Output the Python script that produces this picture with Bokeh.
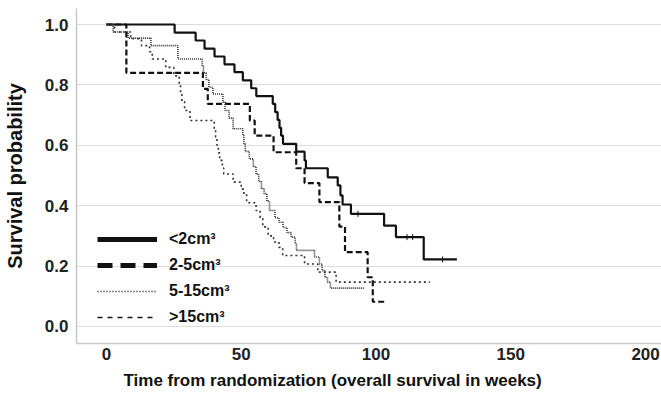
from bokeh.plotting import figure
from bokeh.models import Range1d, FixedTicker, Legend, LegendItem, Title
from bokeh.embed import file_html
from bokeh.resources import INLINE
import numpy as np

# Kaplan-Meier estimates by tumour volume group (event times in weeks, survival after each step)
lt2_time = [0, 25.3, 33.1, 36.4, 40.1, 43.8, 47.5, 50.6, 53.7, 55.6, 61.7, 62.6, 63.5, 64.2,
            64.8, 65.5, 70.4, 73.5, 74.0, 82.1, 85.8, 86.8, 87.6, 90.7, 103.0, 107.4, 117.7, 130.0]
lt2_surv = [1.0, 0.973, 0.947, 0.920, 0.894, 0.868, 0.842, 0.815, 0.789, 0.763, 0.737, 0.710,
            0.684, 0.658, 0.632, 0.605, 0.579, 0.550, 0.524, 0.494, 0.467, 0.434, 0.404, 0.373,
            0.334, 0.296, 0.222, 0.222]
lt2_censor = [93.3, 111.5, 113.6, 124.7]

v2_5_time = [0, 7.4, 35.8, 37.6, 53.2, 55.0, 62.0, 70.4, 73.5, 79.0, 86.4, 88.5, 96.9, 98.8, 103.5]
v2_5_surv = [1.0, 0.840, 0.787, 0.737, 0.682, 0.632, 0.577, 0.524, 0.475, 0.412, 0.331, 0.246,
             0.163, 0.082, 0.082]

v5_15_time = [0, 2.5, 8.0, 16.5, 26.5, 35.5, 36.0, 37.0, 38.0, 39.5, 43.2, 44.0, 45.5, 47.0,
              50.6, 51.0, 51.5, 53.0, 54.5, 55.5, 56.5, 57.5, 58.5, 59.5, 60.5, 62.5, 64.0,
              65.5, 67.0, 68.5, 70.0, 70.5, 77.2, 79.0, 80.0, 81.0, 82.0, 83.1, 95.7]
v5_15_surv = [1.0, 0.975, 0.955, 0.930, 0.886, 0.862, 0.840, 0.818, 0.792, 0.770, 0.743, 0.715,
              0.690, 0.655, 0.632, 0.605, 0.580, 0.555, 0.530, 0.505, 0.480, 0.457, 0.440, 0.415,
              0.384, 0.360, 0.345, 0.328, 0.311, 0.296, 0.275, 0.252, 0.230, 0.207, 0.185, 0.163,
              0.147, 0.127, 0.127]

gt15_time = [0, 3.0, 9.0, 13.0, 16.0, 17.0, 22.0, 25.0, 27.0, 27.5, 28.0, 29.0, 31.0, 40.0,
             40.5, 41.0, 41.5, 42.0, 43.0, 43.5, 47.0, 50.0, 51.0, 52.0, 55.5, 57.0, 58.0, 60.0,
             62.0, 64.0, 65.4, 73.5, 78.4, 85.2, 120.0]
gt15_surv = [1.0, 0.975, 0.953, 0.930, 0.910, 0.886, 0.858, 0.830, 0.800, 0.775, 0.745, 0.715,
             0.682, 0.655, 0.628, 0.600, 0.575, 0.550, 0.525, 0.505, 0.478, 0.455, 0.438, 0.410,
             0.384, 0.360, 0.330, 0.300, 0.280, 0.262, 0.235, 0.207, 0.180, 0.147, 0.147]

group_labels = ["<2cm³", "2-5cm³", "5-15cm³", ">15cm³"]
x_ticks = [0, 50, 100, 150, 200]
y_ticks = [0.0, 0.2, 0.4, 0.6, 0.8, 1.0]
y_tick_labels = ["0.0", "0.2", "0.4", "0.6", "0.8", "1.0"]

FONT = "Liberation Sans"
INK = "#111111"

p = figure(width=661, height=405, output_backend="svg", toolbar_location=None,
           x_range=Range1d(-11.1, 205.9), y_range=Range1d(-0.0563, 1.053),
           min_border_left=75, min_border_right=0, min_border_top=8, min_border_bottom=62)
p.outline_line_color = None
p.background_fill_color = "white"
p.border_fill_color = "white"

# survival curves
p.step(lt2_time, lt2_surv, mode="after", line_color=INK, line_width=2.2)
p.step(v2_5_time, v2_5_surv, mode="after", line_color=INK, line_width=2.2, line_dash="6 3")
p.step(v5_15_time, v5_15_surv, mode="after", line_color="#333333", line_width=1.6, line_dash="1 1")
p.step(gt15_time, gt15_surv, mode="after", line_color="#333333", line_width=1.6, line_dash="2 3")

# censoring marks on the <2cm³ curve
cens_y = [lt2_surv[int(np.searchsorted(lt2_time, t, side="right")) - 1] for t in lt2_censor]
p.scatter(lt2_censor, cens_y, marker="dash", angle=np.pi / 2, size=6,
          line_color=INK, line_width=1)

# legend swatches (heavier strokes than the curves); NaN data so nothing is plotted
sw_kw = dict(x=[np.nan], y=[np.nan], line_color=INK)
sw1 = p.line(line_width=5, **sw_kw)
sw2 = p.line(line_width=5, line_dash="15 8", **sw_kw)
sw3 = p.line(line_width=1.5, line_dash="1 2", **sw_kw)
sw4 = p.line(line_width=1.5, line_dash="5 5", **sw_kw)
legend = Legend(items=[LegendItem(label=lab, renderers=[r])
                       for lab, r in zip(group_labels, [sw1, sw2, sw3, sw4])],
                location=(21, 16), glyph_width=60, glyph_height=20, label_height=20,
                label_standoff=12, spacing=6, padding=0, margin=0,
                border_line_color=None, background_fill_alpha=0,
                label_text_font=FONT, label_text_font_style="bold",
                label_text_font_size="16px", label_text_color=INK)
p.add_layout(legend)

# axes
p.xaxis.ticker = FixedTicker(ticks=x_ticks)
p.yaxis.ticker = FixedTicker(ticks=y_ticks)
p.yaxis.major_label_overrides = {t: s for t, s in zip(y_ticks, y_tick_labels)}
for ax in (p.xaxis[0], p.yaxis[0]):
    ax.axis_line_color = "#c8c8c8"
    ax.axis_line_width = 1.5
    ax.major_tick_line_color = None
    ax.minor_tick_line_color = None
    ax.major_tick_out = 0
    ax.major_tick_in = 0
    ax.minor_tick_out = 0
    ax.minor_tick_in = 0
    ax.major_label_text_font = FONT
    ax.major_label_text_font_style = "bold"
    ax.major_label_text_font_size = "17px"
    ax.major_label_text_color = "#222222"
    ax.axis_label_text_font = FONT
    ax.axis_label_text_font_style = "bold"
    ax.axis_label_text_color = "#111111"

p.xaxis.major_label_standoff = 4
p.add_layout(Title(text="Time from randomization (overall survival in weeks)",
                   align="left", offset=47, standoff=12,
                   text_font=FONT, text_font_style="bold", text_font_size="17px",
                   text_color="#111111"), "below")

p.yaxis.axis_label = "Survival probability"
p.yaxis.axis_label_text_font_size = "20px"
p.yaxis.major_label_standoff = 8
p.yaxis.axis_label_standoff = 16

p.xgrid.grid_line_color = None
p.ygrid.grid_line_color = "#dcdcdc"
p.ygrid.grid_line_width = 1.2

open("out.html", "w").write(file_html(p, INLINE))
